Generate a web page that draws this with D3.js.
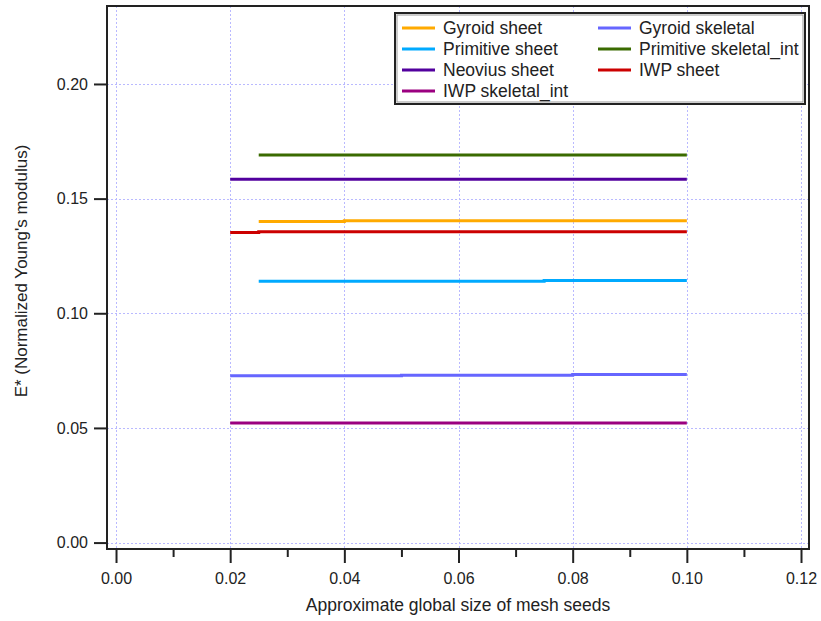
<!DOCTYPE html>
<html>
<head>
<meta charset="utf-8">
<script src="https://cdn.jsdelivr.net/npm/d3@7"></script>
<style>
  body { margin: 0; background: #ffffff; }
  text { font-family: "Liberation Sans", Arial, sans-serif; fill: #222; }
</style>
</head>
<body>
<div id="viz"></div>
<script>

// series: name, colour, mesh seed sizes and E* values
const seriesNames = ["Gyroid sheet", "Primitive sheet", "Neovius sheet", "IWP skeletal_int",
                     "Gyroid skeletal", "Primitive skeletal_int", "IWP sheet"]
const seriesColors = ["#ffaa00", "#00aaff", "#52009e", "#9b0080", "#6666ff", "#3a6b00", "#cc0000"]

const gyroidSheetX = [0.025, 0.04, 0.1]
const gyroidSheetY = [0.1400, 0.1404, 0.1404]
const primitiveSheetX = [0.025, 0.075, 0.1]
const primitiveSheetY = [0.1140, 0.1143, 0.1143]
const neoviusSheetX = [0.02, 0.1]
const neoviusSheetY = [0.1585, 0.1585]
const iwpSkeletalX = [0.02, 0.1]
const iwpSkeletalY = [0.0521, 0.0521]
const gyroidSkeletalX = [0.02, 0.05, 0.08, 0.1]
const gyroidSkeletalY = [0.0727, 0.0730, 0.0733, 0.0733]
const primitiveSkeletalX = [0.025, 0.1]
const primitiveSkeletalY = [0.1690, 0.1690]
const iwpSheetX = [0.02, 0.025, 0.1]
const iwpSheetY = [0.1352, 0.1355, 0.1355]

const xTicks = [0, 0.02, 0.04, 0.06, 0.08, 0.10, 0.12]
const xMinorTicks = [0.01, 0.03, 0.05, 0.07, 0.09, 0.11]
const yTicks = [0, 0.05, 0.10, 0.15, 0.20]

const seriesX = [gyroidSheetX, primitiveSheetX, neoviusSheetX, iwpSkeletalX, gyroidSkeletalX, primitiveSkeletalX, iwpSheetX]
const seriesY = [gyroidSheetY, primitiveSheetY, neoviusSheetY, iwpSkeletalY, gyroidSkeletalY, primitiveSkeletalY, iwpSheetY]

const width = 821
const height = 621
const plotLeft = 107, plotRight = 809, plotTop = 6, plotBottom = 549

const svg = d3.select("#viz").append("svg")
  .attr("width", width)
  .attr("height", height)

const x = d3.scaleLinear().domain([-0.00158, 0.1214]).range([plotLeft, plotRight])
const y = d3.scaleLinear().domain([-0.0028, 0.234]).range([plotBottom, plotTop])

// grid
const grid = svg.append("g")
  .attr("stroke", "#b9b9ff")
  .attr("stroke-width", 1)
  .attr("stroke-dasharray", "2,2")

grid.selectAll("line.gx")
  .data(xTicks)
  .enter().append("line")
  .attr("class", "gx")
  .attr("x1", d => Math.round(x(d)) + 0.5)
  .attr("x2", d => Math.round(x(d)) + 0.5)
  .attr("y1", plotTop)
  .attr("y2", plotBottom)

grid.selectAll("line.gy")
  .data(yTicks)
  .enter().append("line")
  .attr("class", "gy")
  .attr("x1", plotLeft)
  .attr("x2", plotRight)
  .attr("y1", d => Math.round(y(d)) + 0.5)
  .attr("y2", d => Math.round(y(d)) + 0.5)

// series lines
const line = d3.line()
  .x(d => x(d[0]))
  .y(d => y(d[1]))
  .curve(d3.curveStepAfter)

seriesNames.forEach((name, i) => {
  const pts = seriesX[i].map((v, j) => [v, seriesY[i][j]])
  svg.append("path")
    .attr("d", line(pts))
    .attr("fill", "none")
    .attr("stroke", seriesColors[i])
    .attr("stroke-width", 3)
})

// frame
svg.append("rect")
  .attr("x", plotLeft)
  .attr("y", plotTop)
  .attr("width", plotRight - plotLeft)
  .attr("height", plotBottom - plotTop)
  .attr("fill", "none")
  .attr("stroke", "#222")
  .attr("stroke-width", 2)

// x axis
const xAxis = svg.append("g")
  .attr("transform", `translate(0,${plotBottom})`)
  .call(d3.axisBottom(x).tickValues(xTicks).tickFormat(d3.format(".2f")).tickSize(14).tickPadding(10))
xAxis.select(".domain").remove()
xAxis.selectAll("line").attr("stroke", "#222").attr("stroke-width", 2)
xAxis.selectAll("text").attr("font-size", 16).attr("fill", "#222")

const xMinor = svg.append("g")
  .attr("transform", `translate(0,${plotBottom})`)
  .call(d3.axisBottom(x).tickValues(xMinorTicks).tickFormat("").tickSize(8))
xMinor.select(".domain").remove()
xMinor.selectAll("line").attr("stroke", "#222").attr("stroke-width", 2)

// y axis
const yAxis = svg.append("g")
  .attr("transform", `translate(${plotLeft},0)`)
  .call(d3.axisLeft(y).tickValues(yTicks).tickFormat(d3.format(".2f")).tickSize(13).tickPadding(6))
yAxis.select(".domain").remove()
yAxis.selectAll("line").attr("stroke", "#222").attr("stroke-width", 2)
yAxis.selectAll("text").attr("font-size", 16).attr("fill", "#222")

// axis titles
svg.append("text")
  .attr("x", 458)
  .attr("y", 611)
  .attr("text-anchor", "middle")
  .attr("font-size", 17.5)
  .text("Approximate global size of mesh seeds")

svg.append("text")
  .attr("transform", "translate(27,271) rotate(-90)")
  .attr("text-anchor", "middle")
  .attr("font-size", 17)
  .text("E* (Normalized Young's modulus)")

// legend
const legend = svg.append("g")

legend.append("rect")
  .attr("x", 395)
  .attr("y", 13)
  .attr("width", 410)
  .attr("height", 91)
  .attr("fill", "#fff")
  .attr("stroke", "#222")
  .attr("stroke-width", 2)

legend.append("rect")
  .attr("x", 397)
  .attr("y", 15)
  .attr("width", 406)
  .attr("height", 87)
  .attr("fill", "none")
  .attr("stroke", "#999")
  .attr("stroke-width", 1)

const legendCols = [402, 598]
seriesNames.forEach((name, i) => {
  const col = i < 4 ? 0 : 1
  const row = i < 4 ? i : i - 4
  const ly = 28 + row * 21
  const lx = legendCols[col]
  legend.append("line")
    .attr("x1", lx)
    .attr("x2", lx + 33)
    .attr("y1", ly)
    .attr("y2", ly)
    .attr("stroke", seriesColors[i])
    .attr("stroke-width", 3)
  legend.append("text")
    .attr("x", lx + 41)
    .attr("y", ly + 6)
    .attr("font-size", 17.5)
    .text(name)
})

</script>
</body>
</html>
